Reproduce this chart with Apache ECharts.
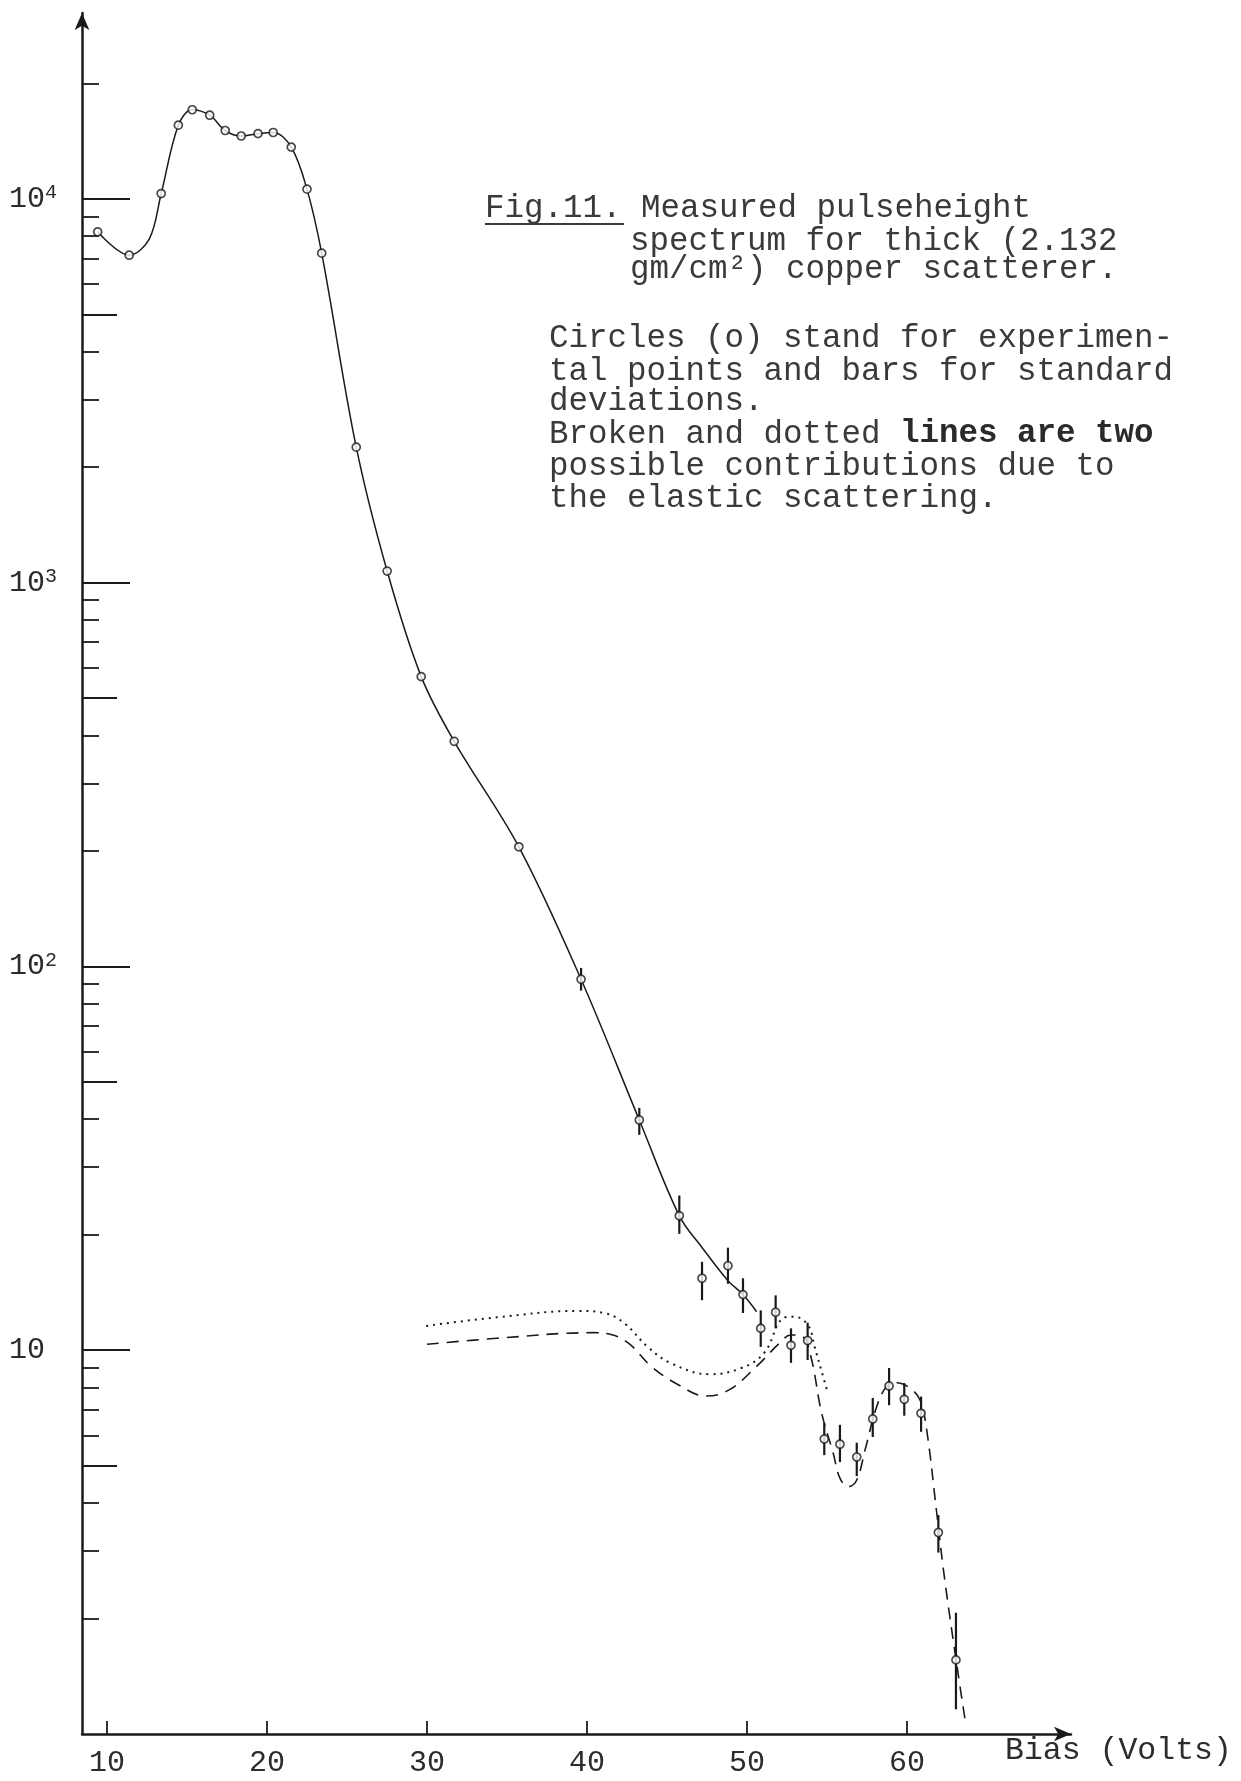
<!DOCTYPE html>
<html><head><meta charset="utf-8">
<script src="https://cdn.jsdelivr.net/npm/echarts@6/dist/echarts.min.js"></script>
<style>html,body{margin:0;padding:0;background:#fff}#c{width:1241px;height:1781px}</style>
</head><body><div id="c"></div>
<script>
// ---- tick values ----
const xTicks = [10, 20, 30, 40, 50, 60];
const yLabelTicks = [10, 100, 1000, 10000];
const yMidTicks = [5, 50, 500, 5000];
const yMinorTicks = [2,3,4,6,7,8,9, 20,30,40,60,70,80,90, 200,300,400,600,700,800,900, 2000,3000,4000,6000,7000,8000,9000, 20000];

// ---- experimental points (bias volts, counts) ----
const ptX = [9.42, 11.39, 13.39, 14.46, 15.33, 16.42, 17.39, 18.39, 19.44, 20.39, 21.52, 22.5, 23.42, 25.58, 27.51, 29.64, 31.70, 35.74, 39.63, 43.27, 45.77, 47.19, 48.81, 49.75, 50.86, 51.79, 52.75, 53.79, 54.83, 55.81, 56.86, 57.86, 58.88, 59.83, 60.88, 61.96, 63.06];
const ptY = [8204, 7131, 10325, 15560, 17070, 16520, 15070, 14580, 14790, 14890, 13640, 10600, 7220, 2254, 1072, 569, 386, 205, 92.6, 39.8, 22.4, 15.4, 16.6, 13.96, 11.4, 12.56, 10.3, 10.6, 5.87, 5.69, 5.27, 6.62, 8.07, 7.45, 6.85, 3.35, 1.56];

// ---- standard deviation bars ----
const errX  = [39.63, 43.27, 45.77, 47.19, 48.81, 49.75, 50.86, 51.79, 52.75, 53.79, 54.83, 55.81, 56.86, 57.86, 58.88, 59.83, 60.88, 61.96, 63.06];
const errLo = [86.5, 36.4, 20.1, 13.5, 14.9, 12.5, 10.2, 11.4, 9.27, 9.43, 5.33, 5.11, 4.70, 5.94, 7.19, 6.75, 6.13, 2.97, 1.16];
const errHi = [99.1, 42.8, 25.3, 17.0, 18.5, 15.4, 12.7, 13.9, 11.4, 11.8, 6.46, 6.39, 5.74, 7.51, 8.99, 8.21, 7.57, 3.72, 2.07];

// ---- solid fitted curve ----
const curveX = [9.42, 11.39, 12.64, 13.39, 14.46, 15.33, 16.42, 17.39, 18.39, 19.44, 20.39, 21.52, 22.5, 23.42, 25.58, 27.51, 29.64, 31.70, 35.74, 39.63, 43.27, 45.77, 47.2, 48.8, 49.75, 50.6];
const curveY = [8204, 7131, 7855, 10325, 15560, 17070, 16520, 15070, 14580, 14790, 14890, 13640, 10600, 7220, 2254, 1072, 569, 386, 205, 92.6, 39.8, 22.4, 18.5, 15.2, 13.96, 12.6];

// ---- dotted elastic contribution ----
const dotX = [29.95, 34.36, 39.44, 41.14, 42.34, 43.8, 45.25, 47.67, 49.6, 51.06, 52.27, 52.94, 53.81, 54.23, 54.64, 55.06];
const dotY = [11.57, 12.18, 12.66, 12.48, 11.75, 10.2, 9.25, 8.66, 8.97, 9.82, 12.12, 12.23, 11.63, 10.2, 8.88, 7.72];

// ---- broken (dashed) elastic contribution ----
const dashX = [30.0, 34.36, 40.41, 41.38, 42.59, 44.04, 45.73, 47.43, 48.88, 50.58, 52.03, 52.75, 53.48, 54.0, 54.67, 55.39, 55.81, 56.33, 56.86, 57.38, 58.11, 58.73, 59.36, 60.19, 60.81, 61.23, 61.86, 62.36, 63.19, 63.63];
const dashY = [10.36, 10.74, 11.11, 11.02, 10.43, 9.06, 8.12, 7.60, 7.88, 9.06, 10.43, 10.96, 10.85, 9.6, 6.85, 5.39, 4.64, 4.41, 4.59, 5.50, 7.13, 8.04, 8.23, 7.96, 7.42, 6.20, 3.76, 2.52, 1.44, 1.09];

const FONT = '"Liberation Mono", "DejaVu Sans Mono", monospace';
const INK = '#1a1a1a';
const TXT = '#2c2c2c';
const CAP = '#3a3a3a';

const zip = (a, b) => a.map((v, i) => [v, b[i]]);

function yAxisDef(ticks, len, showLine, showLabel) {
  return {
    type: 'log', logBase: 10, min: 1, max: 30500, position: 'left', offset: 0,
    axisLine: showLine ? { show: true, symbol: ['none', 'arrow'], symbolSize: [11, 17], lineStyle: { color: INK, width: 2.5 } } : { show: false },
    axisTick: { show: true, inside: true, length: len, customValues: ticks, lineStyle: { color: INK, width: 1.8 } },
    minorTick: { show: false },
    splitLine: { show: false },
    axisLabel: showLabel ? {
      show: true, customValues: ticks, align: 'left', margin: 73,
      formatter: v => { const e = Math.round(Math.log10(v)); return e === 1 ? '{b|10}' : '{b|10}{s|' + e + '}'; },
      rich: {
        b: { fontFamily: FONT, fontSize: 30, color: TXT, lineHeight: 32 },
        s: { fontFamily: FONT, fontSize: 20, color: TXT, lineHeight: 15, verticalAlign: 'top' }
      }
    } : { show: false }
  };
}

const capStyle = (text, extra) => Object.assign({ text: text, fontFamily: FONT, fontSize: 32.5, fill: CAP, verticalAlign: 'middle' }, extra || {});

const chart = echarts.init(document.getElementById('c'), null, { renderer: 'canvas' });
const option = {
  animation: false,
  backgroundColor: '#ffffff',
  grid: { left: 82, right: 170, top: 13, bottom: 47, containLabel: false },
  xAxis: {
    type: 'value', min: 8.44, max: 70.25,
    axisLine: { show: true, symbol: ['none', 'arrow'], symbolSize: [11, 17], lineStyle: { color: INK, width: 2.5 } },
    axisTick: { show: true, inside: true, length: 13, customValues: xTicks, lineStyle: { color: INK, width: 1.8 } },
    axisLabel: { show: true, customValues: xTicks, margin: 14, fontFamily: FONT, fontSize: 30, color: TXT },
    splitLine: { show: false }
  },
  yAxis: [
    yAxisDef(yLabelTicks, 48, true, true),
    yAxisDef(yMidTicks, 35, false, false),
    yAxisDef(yMinorTicks, 17, false, false)
  ],
  series: [
    { type: 'line', data: zip(curveX, curveY), smooth: 0.35, showSymbol: false, lineStyle: { color: INK, width: 1.5 }, z: 2 },
    { type: 'line', data: zip(dotX, dotY), smooth: 0.4, showSymbol: false, lineStyle: { color: INK, width: 2, type: [2, 5] }, z: 2 },
    { type: 'line', data: zip(dashX, dashY), smooth: 0.4, showSymbol: false, lineStyle: { color: INK, width: 1.6, type: [12, 8] }, z: 2 },
    {
      type: 'custom', z: 3,
      data: errX.map((x, i) => [x, errLo[i], errHi[i]]),
      encode: { x: 0, y: [1, 2] },
      renderItem: (params, api) => {
        const a = api.coord([api.value(0), api.value(1)]);
        const b = api.coord([api.value(0), api.value(2)]);
        return { type: 'line', shape: { x1: a[0], y1: a[1], x2: b[0], y2: b[1] }, style: { stroke: INK, lineWidth: 2.2 } };
      }
    },
    { type: 'scatter', data: zip(ptX, ptY), symbol: 'circle', symbolSize: 8, itemStyle: { color: '#ffffff', borderColor: INK, borderWidth: 1.7 }, z: 5 }
  ],
  graphic: [
    { type: 'text', left: 1005, top: 1735, style: { text: 'Bias (Volts)', fontFamily: FONT, fontSize: 31.5, fill: TXT } },
    { type: 'text', x: 485, y: 208, style: capStyle('Fig.11. Measured pulseheight') },
    { type: 'line', shape: { x1: 485, y1: 224, x2: 624, y2: 224 }, style: { stroke: CAP, lineWidth: 2 } },
    { type: 'text', x: 630, y: 241, style: capStyle('spectrum for thick (2.132') },
    { type: 'text', x: 630, y: 269, style: capStyle('gm/cm\u00B2) copper scatterer.') },
    { type: 'text', x: 549, y: 338, style: capStyle('Circles (o) stand for experimen-') },
    { type: 'text', x: 549, y: 371, style: capStyle('tal points and bars for standard') },
    { type: 'text', x: 549, y: 401, style: capStyle('deviations.') },
    { type: 'text', x: 549, y: 434, style: capStyle('{n|Broken and dotted }{b|lines are two}', {
        rich: { n: { fontFamily: FONT, fontSize: 32.5, fill: CAP }, b: { fontFamily: FONT, fontSize: 32.5, fontWeight: 'bold', fill: '#2a2a2a' } } }) },
    { type: 'text', x: 549, y: 466, style: capStyle('possible contributions due to') },
    { type: 'text', x: 549, y: 498, style: capStyle('the elastic scattering.') }
  ]
};
chart.setOption(option);
</script>
</body></html>
